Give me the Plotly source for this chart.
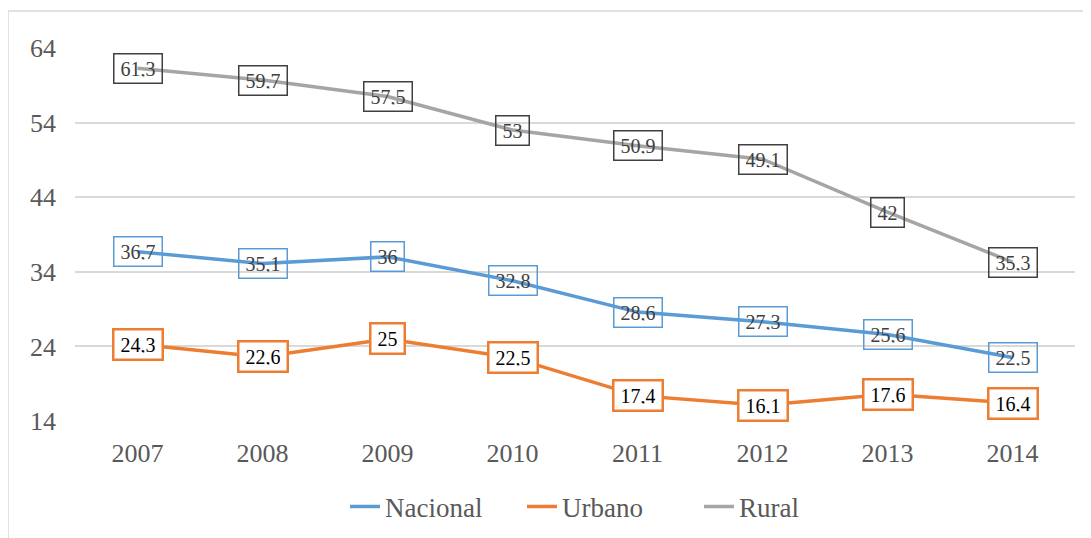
import plotly.graph_objects as go

years = ["2007", "2008", "2009", "2010", "2011", "2012", "2013", "2014"]
nacional = [36.7, 35.1, 36.0, 32.8, 28.6, 27.3, 25.6, 22.5]
urbano = [24.3, 22.6, 25.0, 22.5, 17.4, 16.1, 17.6, 16.4]
rural = [61.3, 59.7, 57.5, 53.0, 50.9, 49.1, 42.0, 35.3]
y_ticks = [14, 24, 34, 44, 54, 64]

series = [
    ("Nacional", nacional, "#5B9BD5", "rgba(0,0,0,0)", "#404040", 1.5),
    ("Urbano", urbano, "#ED7D31", "#FFFFFF", "#000000", 2.5),
    ("Rural", rural, "#A5A5A5", "rgba(0,0,0,0)", "#404040", 1.5),
]
box_border = {"Nacional": "#5B9BD5", "Urbano": "#ED7D31", "Rural": "#404040"}

FONT = "Liberation Serif, Times New Roman, serif"


def fmt(v):
    s = ("%.1f" % v).rstrip("0").rstrip(".")
    return s.replace(".", ",")


fig = go.Figure()
annotations = []
for name, vals, color, bg, tcolor, bw in series:
    fig.add_trace(go.Scatter(x=years, y=vals, mode="lines", name=name,
                             line=dict(color=color, width=3.5)))
    for i, v in enumerate(vals):
        annotations.append(dict(
            x=i, y=v, xref="x", yref="y", text=fmt(v), showarrow=False,
            font=dict(family=FONT, size=20, color=tcolor),
            bgcolor=bg, bordercolor=box_border[name], borderwidth=bw,
            borderpad=6, height=16, valign="middle"))

fig.update_layout(
    width=1091, height=538,
    margin=dict(l=67, r=24, t=40, b=125),
    paper_bgcolor="white", plot_bgcolor="white",
    font=dict(family=FONT, size=26, color="#595959"),
    showlegend=True,
    legend=dict(orientation="h", x=0.27, xanchor="left", y=-0.165, yanchor="top",
                font=dict(family=FONT, size=27, color="#595959"),
                entrywidth=132, entrywidthmode="pixels", tracegroupgap=0),
    annotations=annotations,
    xaxis=dict(type="category", categoryorder="array", categoryarray=years,
               range=[-0.5, 7.5], showgrid=False, showline=False, zeroline=False,
               ticks="", ticklabelstandoff=14,
               tickfont=dict(family=FONT, size=26, color="#595959")),
    yaxis=dict(range=[14, 64], tickvals=y_ticks, showgrid=True, gridcolor="#D9D9D9",
               gridwidth=1.5, zeroline=False, showline=False, ticks="",
               ticklabelstandoff=18,
               tickfont=dict(family=FONT, size=26, color="#595959")),
    shapes=[dict(type="rect", xref="paper", yref="paper", x0=-0.067, x1=1.2,
                 y0=-0.6, y1=1.099, line=dict(color="#D9D9D9", width=1.5),
                 fillcolor="rgba(0,0,0,0)", layer="below")],
)

fig.write_html("out.html")
